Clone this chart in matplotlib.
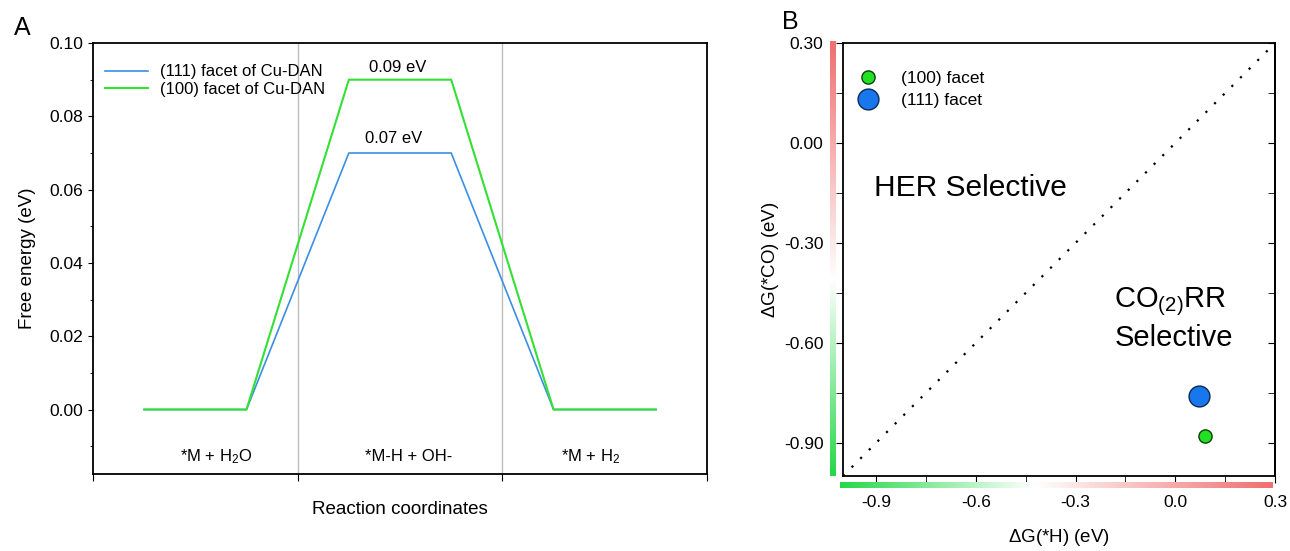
import numpy as np
import matplotlib
matplotlib.use("Agg")
import matplotlib.pyplot as plt
from matplotlib.colors import LinearSegmentedColormap
from matplotlib.ticker import MultipleLocator, FormatStrFormatter, NullFormatter
from matplotlib.lines import Line2D

plt.rcParams['font.family'] = ['Liberation Sans', 'DejaVu Sans']
plt.rcParams['mathtext.fontset'] = 'custom'
plt.rcParams['mathtext.rm'] = 'Liberation Sans'
plt.rcParams['mathtext.it'] = 'Liberation Sans'

# panel A data: free energy diagram
steps = [r"*M + H$_2$O", "*M-H + OH-", r"*M + H$_2$"]
energy_111 = [0.0, 0.07, 0.0]
energy_100 = [0.0, 0.09, 0.0]
barrier_labels = ["0.07 eV", "0.09 eV"]

# panel B data: selectivity map
facets = ["(100) facet", "(111) facet"]
dG_H = [0.09, 0.07]
dG_CO = [-0.88, -0.76]

blue_line = "#3b8fe3"
green_line = "#33e033"

fig = plt.figure(figsize=(12.9, 5.51), dpi=100)
axA = fig.add_axes([0.0721, 0.1397, 0.476, 0.7822])
axB = fig.add_axes([0.6535, 0.1361, 0.3349, 0.7858])

# ---- panel A
def level_path(vals):
    xs, ys = [], []
    for i, v in enumerate(vals):
        xs += [i + 0.25, i + 0.75]
        ys += [v, v]
    return xs, ys

x1, y1 = level_path(energy_111)
x2, y2 = level_path(energy_100)
axA.axvline(1, color="#bdbdbd", lw=1)
axA.axvline(2, color="#bdbdbd", lw=1)
axA.plot(x1, y1, color=blue_line, lw=1.2, label="(111) facet of Cu-DAN")
axA.plot(x2, y2, color=green_line, lw=1.5, label="(100) facet of Cu-DAN")
axA.text(1.47, max(energy_111) + 0.0040, barrier_labels[0], ha="center", va="center", fontsize=12)
axA.text(1.49, max(energy_100) + 0.0032, barrier_labels[1], ha="center", va="center", fontsize=12)
for i, s in enumerate(steps):
    axA.text(i + [0.60, 0.54, 0.43][i], -0.0128, s, ha="center", va="center", fontsize=12)

axA.set_xlim(0, 3)
axA.set_ylim(-0.0176, 0.10)
axA.set_xticks([0, 1, 2, 3])
axA.set_xticklabels([])
axA.yaxis.set_major_locator(MultipleLocator(0.02))
axA.yaxis.set_minor_locator(MultipleLocator(0.01))
axA.yaxis.set_major_formatter(FormatStrFormatter("%.2f"))
axA.tick_params(axis="both", which="both", direction="out", labelsize=12.5)
axA.tick_params(axis="x", length=5)
axA.set_xlabel("Reaction coordinates", fontsize=13.5, labelpad=11)
axA.set_ylabel("Free energy (eV)", fontsize=13.5, labelpad=10)
axA.legend(loc="upper left", bbox_to_anchor=(-0.005, 0.985), frameon=False, fontsize=12,
           handlelength=2.6, handletextpad=0.7, labelspacing=0.15)
for sp in axA.spines.values():
    sp.set_linewidth(1.3)
fig.text(0.011, 0.95, "A", fontsize=18, va="center")

# ---- panel B
cmap = LinearSegmentedColormap.from_list(
    "gr", [(0.0, "#25d848"), (0.45, "#ffffff"), (1.0, "#f06e6e")])
grad = np.linspace(0, 1, 256)
bar_left = axB.inset_axes([-0.031, 0.0, 0.012, 1.005])
bar_left.imshow(grad[:, None], cmap=cmap, aspect="auto", origin="lower")
bar_left.axis("off")
bar_bot = axB.inset_axes([-0.008, -0.027, 1.0, 0.013])
bar_bot.imshow(grad[None, :], cmap=cmap, aspect="auto", origin="lower")
bar_bot.axis("off")

axB.plot([-1.0, 0.3], [-1.0, 0.3], color="black", lw=1.6, linestyle=(0, (1, 4.5)))
axB.plot(dG_H[1], dG_CO[1], "o", ms=15, color="#1977ee", mec="#0a2a55", mew=1)
axB.plot(dG_H[0], dG_CO[0], "o", ms=9.5, color="#22e022", mec="#0a400a", mew=1)

axB.text(-0.907, -0.135, "HER Selective", fontsize=21.5, va="center", ha="left")
axB.text(-0.184, -0.527, "CO$_{(2)}$RR\nSelective", fontsize=21, va="center", ha="left",
         linespacing=1.25)

handles = [Line2D([], [], marker="o", ls="", ms=9.5, color="#22e022", mec="#0a400a"),
           Line2D([], [], marker="o", ls="", ms=15, color="#1977ee", mec="#0a2a55")]
axB.legend(handles, facets, loc="upper left", bbox_to_anchor=(-0.022, 0.975), frameon=False,
           fontsize=12.5, handletextpad=0.9, labelspacing=0.35, borderpad=0.5)

axB.set_xlim(-1.0, 0.3)
axB.set_ylim(-1.0, 0.3)
axB.set_xticks([-0.9, -0.6, -0.3, 0.0, 0.3])
axB.set_yticks([-0.9, -0.6, -0.3, 0.0, 0.3])
axB.set_xticks([-0.75, -0.45, -0.15, 0.15], minor=True)
axB.set_yticks([-0.75, -0.45, -0.15, 0.15], minor=True)
axB.xaxis.set_major_formatter(FormatStrFormatter("%.1f"))
axB.yaxis.set_major_formatter(FormatStrFormatter("%.2f"))
axB.tick_params(axis="both", which="both", direction="out", labelsize=12.5, length=5)
axB.tick_params(axis="x", pad=9)
axB.tick_params(axis="y", pad=9)

# inward ticks on the right spine
sec = axB.secondary_yaxis("right")
sec.set_yticks([-0.9, -0.6, -0.3, 0.0, 0.3])
sec.set_yticks([-0.75, -0.45, -0.15, 0.15], minor=True)
sec.yaxis.set_major_formatter(NullFormatter())
sec.tick_params(which="both", direction="in", length=5)
sec.spines["right"].set_linewidth(1.3)

axB.set_xlabel(r"$\Delta$G(*H) (eV)", fontsize=13.5, labelpad=12)
axB.set_ylabel(r"$\Delta$G(*CO) (eV)", fontsize=13.5, labelpad=2)
for sp in axB.spines.values():
    sp.set_linewidth(1.3)
fig.text(0.606, 0.96, "B", fontsize=18, va="center")

fig.savefig("out.png", dpi=100)
